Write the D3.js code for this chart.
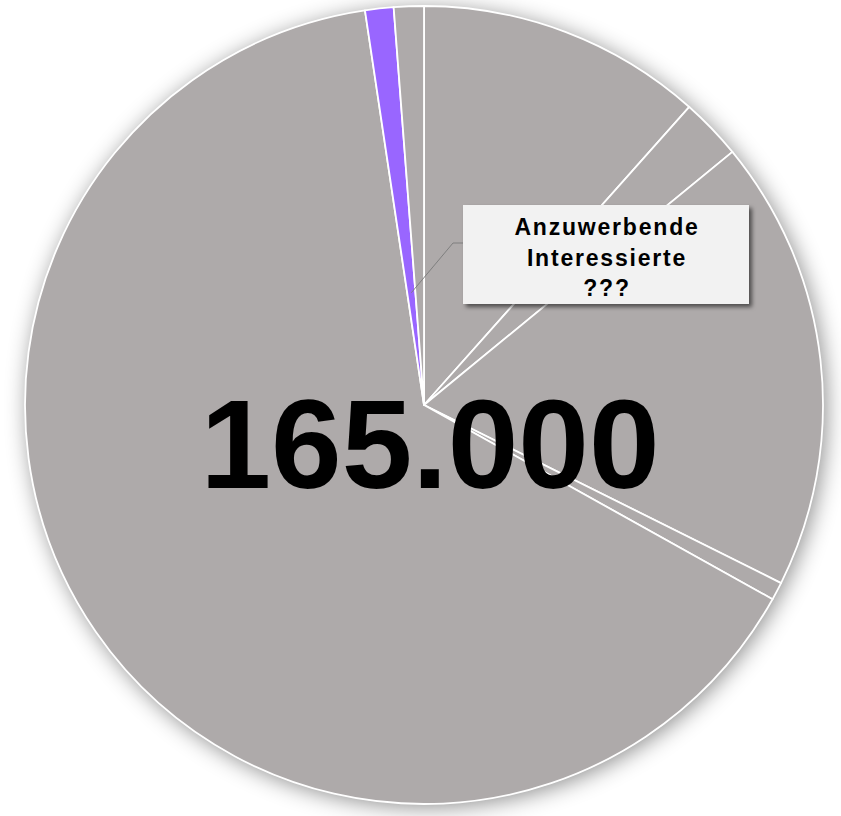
<!DOCTYPE html>
<html>
<head>
<meta charset="utf-8">
<script src="https://cdn.jsdelivr.net/npm/d3@7"></script>
<style>
  html, body { margin: 0; padding: 0; background: #fff; }
  svg { display: block; }
</style>
</head>
<body>
<svg id="chart" width="841" height="816"></svg>
<script>
// slice data, clockwise from 12 o'clock
const segments = ["A", "B", "C", "D", "E", "Anzuwerbende Interessierte", "F"];
const values = [19100, 4100, 30200, 1200, 106500, 1900, 2000];
const highlighted = "Anzuwerbende Interessierte";
const totalLabel = "165.000";
const calloutLines = ["Anzuwerbende", "Interessierte", "???"];

const svg = d3.select("#chart"),
    cx = 424,
    cy = 405,
    radius = 399;

// soft shadow round the pie and the callout box
const defs = svg.append("defs");
defs.append("filter")
    .attr("id", "pieShadow")
    .attr("x", "-20%").attr("y", "-20%")
    .attr("width", "140%").attr("height", "140%")
  .append("feDropShadow")
    .attr("dx", 3).attr("dy", 3)
    .attr("stdDeviation", 11)
    .attr("flood-color", "#000")
    .attr("flood-opacity", 0.45);

defs.append("filter")
    .attr("id", "boxShadow")
    .attr("x", "-10%").attr("y", "-20%")
    .attr("width", "120%").attr("height", "140%")
  .append("feDropShadow")
    .attr("dx", 3).attr("dy", 3)
    .attr("stdDeviation", 2)
    .attr("flood-color", "#000")
    .attr("flood-opacity", 0.55);

const data = segments.map((name, i) => ({ name, value: values[i] }));

const pie = d3.pie()
    .value(d => d.value)
    .sort(null); // keep drawing order

const arc = d3.arc()
    .innerRadius(0)
    .outerRadius(radius);

const g = svg.append("g")
    .attr("transform", `translate(${cx},${cy})`);

// shadow disc underneath so the seams don't get shadowed
g.append("circle")
    .attr("r", radius)
    .attr("fill", "#aeaaaa")
    .attr("filter", "url(#pieShadow)");

const arcs = pie(data);

g.selectAll("path.slice")
  .data(arcs)
  .enter().append("path")
    .attr("class", "slice")
    .attr("d", arc)
    .attr("fill", d => d.data.name === highlighted ? "#9966ff" : "#aeaaaa")
    .attr("stroke", "#fff")
    .attr("stroke-width", 1.8)
    .attr("stroke-linejoin", "round");

// big total in the middle
svg.append("text")
    .attr("x", 430)
    .attr("y", 488)
    .attr("text-anchor", "middle")
    .attr("font-family", "Liberation Sans, Arial, sans-serif")
    .attr("font-weight", "bold")
    .attr("font-size", "127px")
    .attr("fill", "#000")
    .text(totalLabel);

// callout for the purple slice
const target = arcs.find(d => d.data.name === highlighted);
const midAngle = (target.startAngle + target.endAngle) / 2;
const anchorR = 113;
const ax = cx + Math.sin(midAngle) * anchorR,
    ay = cy - Math.cos(midAngle) * anchorR;

const box = { x: 463, y: 205, w: 286, h: 99 };

svg.append("polyline")
    .attr("points", [[ax, ay], [453, 243], [box.x, 243]].map(p => p.join(",")).join(" "))
    .attr("fill", "none")
    .attr("stroke", "#7f7f7f")
    .attr("stroke-width", 1);

svg.append("rect")
    .attr("x", box.x)
    .attr("y", box.y)
    .attr("width", box.w)
    .attr("height", box.h)
    .attr("fill", "#f2f2f2")
    .attr("filter", "url(#boxShadow)");

svg.append("g")
    .selectAll("text")
    .data(calloutLines)
    .enter().append("text")
    .attr("x", box.x + box.w / 2 + 1)
    .attr("y", (d, i) => 235 + i * 30.5)
    .attr("text-anchor", "middle")
    .attr("font-family", "Liberation Sans, Arial, sans-serif")
    .attr("font-weight", "bold")
    .attr("font-size", "23px")
    .attr("letter-spacing", "1.8px")
    .attr("fill", "#000")
    .text(d => d);
</script>
</body>
</html>
